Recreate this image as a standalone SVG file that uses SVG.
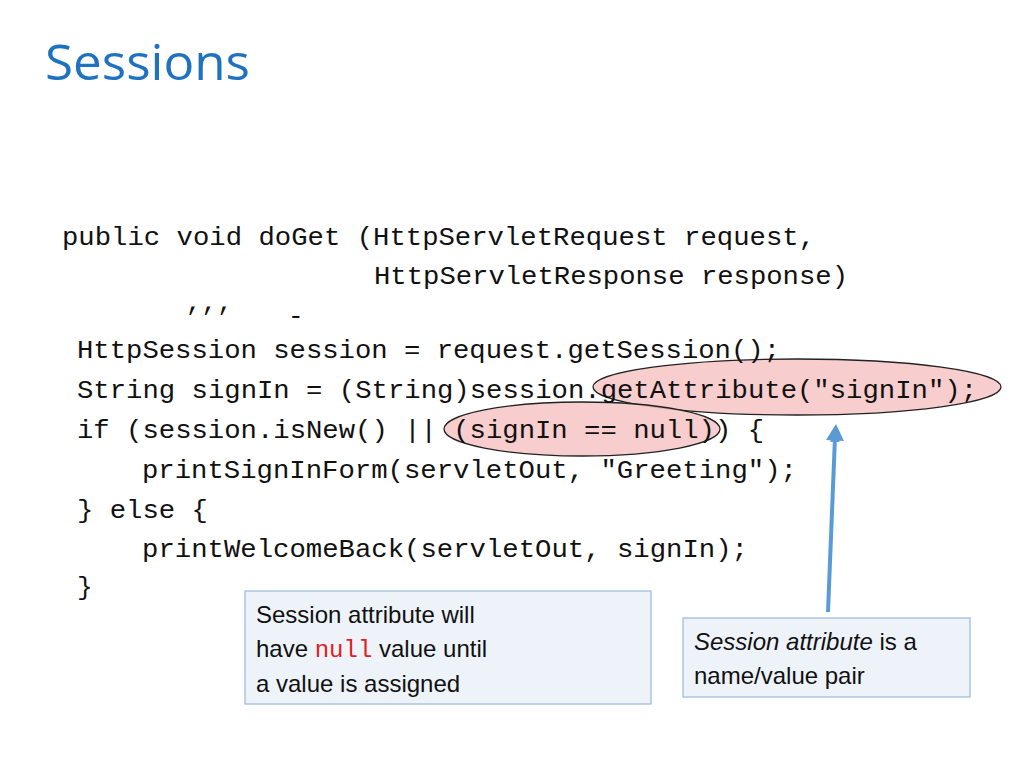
<svg xmlns="http://www.w3.org/2000/svg" width="1024" height="768" viewBox="0 0 1024 768">
<style>
.c{font-family:"Liberation Mono","DejaVu Sans Mono",monospace;font-size:26px;fill:#111}
.t{font-family:"Liberation Sans",Arial,sans-serif;font-size:24px;fill:#111}
.box{fill:#eef3fa;stroke:#9ab8dc;stroke-width:1.2}
.ell{fill:#f6c4c4;fill-opacity:0.85;stroke:#222;stroke-width:1.3}
</style>
<defs><marker id="ah" markerWidth="10" markerHeight="10" refX="5" refY="5" orient="auto" markerUnits="userSpaceOnUse" viewBox="0 0 10 10"><path d="M0,0 L10,5 L0,10 z" fill="#5b9bd5"/></marker></defs>
<rect width="1024" height="768" fill="#fff"/>
<text x="45" y="80" font-family="Open Sans,Lato,sans-serif" font-size="50" fill="#1f72c0" textLength="205" lengthAdjust="spacingAndGlyphs">Sessions</text>
<g id="highlights">
<ellipse class="ell" cx="797" cy="387" rx="204" ry="28"/>
<ellipse class="ell" cx="582" cy="429" rx="138" ry="27"/>
</g>
<g id="code">
<text class="c" x="62" y="245" textLength="753" lengthAdjust="spacingAndGlyphs">public void doGet (HttpServletRequest request,</text>
<text class="c" x="374" y="284" textLength="474" lengthAdjust="spacingAndGlyphs">HttpServletResponse response)</text>
<text class="c" x="186" y="310" font-size="18">,,,</text>
<text class="c" x="288" y="324" font-size="18">-</text>
<text class="c" x="77" y="358" textLength="703" lengthAdjust="spacingAndGlyphs">HttpSession session = request.getSession();</text>
<text class="c" x="77" y="398" textLength="900" lengthAdjust="spacingAndGlyphs">String signIn = (String)session.getAttribute("signIn");</text>
<text class="c" x="77" y="438" textLength="687" lengthAdjust="spacingAndGlyphs">if (session.isNew() || (signIn == null)) {</text>
<text class="c" x="142" y="478" textLength="655" lengthAdjust="spacingAndGlyphs">printSignInForm(servletOut, "Greeting");</text>
<text class="c" x="77" y="518" textLength="131" lengthAdjust="spacingAndGlyphs">} else {</text>
<text class="c" x="142" y="557" textLength="606" lengthAdjust="spacingAndGlyphs">printWelcomeBack(servletOut, signIn);</text>
<text class="c" x="77" y="595">}</text>
</g>
<g id="connectors">
<line x1="828" y1="612" x2="835" y2="437" stroke="#5b9bd5" stroke-width="4" marker-end="url(#ah)"/>
<path d="M826,440 L836,424 L844,441 z" fill="#5b9bd5"/>
</g>
<g id="note1">
<rect class="box" x="245" y="591" width="406" height="113"/>
<text class="t" x="256" y="623">Session attribute will</text>
<text class="t" x="256" y="657">have <tspan font-family="Liberation Mono,monospace" fill="#e0201c">null</tspan> value until</text>
<text class="t" x="256" y="692">a value is assigned</text>
</g>
<g id="note2">
<rect class="box" x="683" y="618" width="287" height="79"/>
<text class="t" x="694" y="650"><tspan font-style="italic">Session attribute</tspan> is a</text>
<text class="t" x="694" y="684">name/value pair</text>
</g>
</svg>
